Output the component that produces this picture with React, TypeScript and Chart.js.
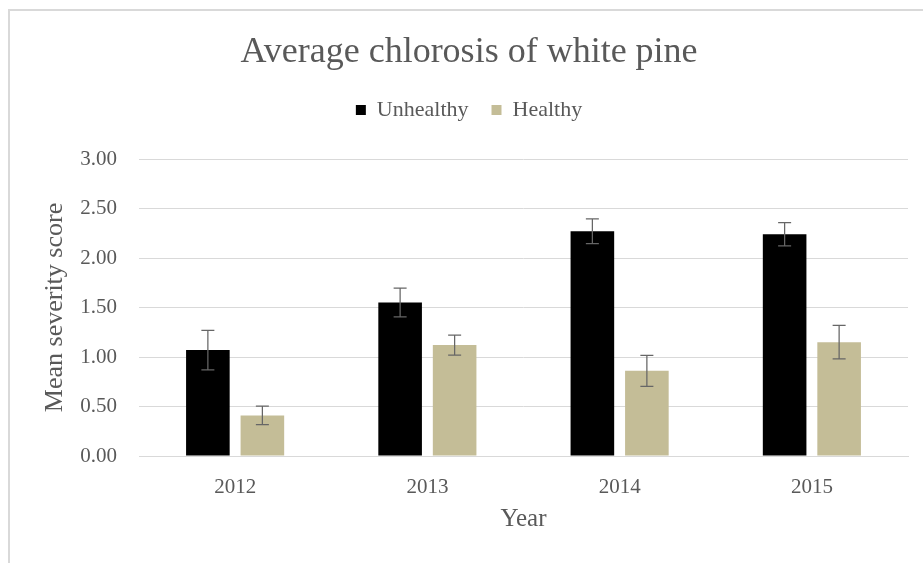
import React, { useEffect, useRef } from "react";
import { Chart, registerables } from "chart.js";

Chart.register(...registerables);

const years = ["2012", "2013", "2014", "2015"];
const unhealthy = [1.07, 1.55, 2.27, 2.24];
const unhealthyErr = [0.2, 0.145, 0.125, 0.117];
const healthy = [0.41, 1.12, 0.86, 1.15];
const healthyErr = [0.094, 0.1, 0.156, 0.17];
const errors = [unhealthyErr, healthyErr];

const FONT = "'Liberation Serif', 'Times New Roman', serif";
const TEXT = "#595959";
const GRID = "#d9d9d9";

const framePlugin = {
  id: "frame",
  beforeDraw(chart: any) {
    const ctx = chart.ctx;
    ctx.save();
    ctx.strokeStyle = GRID;
    ctx.lineWidth = 2;
    ctx.beginPath();
    ctx.moveTo(9, chart.height);
    ctx.lineTo(9, 10);
    ctx.lineTo(chart.width, 10);
    ctx.stroke();
    ctx.restore();
  },
};

const errorBarPlugin = {
  id: "errorBars",
  afterDatasetsDraw(chart: any) {
    const ctx = chart.ctx;
    const yScale = chart.scales.y;
    ctx.save();
    ctx.strokeStyle = "#666666";
    ctx.lineWidth = 1.25;
    chart.data.datasets.forEach((ds: any, di: number) => {
      const meta = chart.getDatasetMeta(di);
      meta.data.forEach((bar: any, i: number) => {
        const v = ds.data[i];
        const e = errors[di][i];
        const x = bar.x;
        const yTop = yScale.getPixelForValue(v + e);
        const yBot = yScale.getPixelForValue(v - e);
        const cap = 6.5;
        ctx.beginPath();
        ctx.moveTo(x, yTop);
        ctx.lineTo(x, yBot);
        ctx.moveTo(x - cap, yTop);
        ctx.lineTo(x + cap, yTop);
        ctx.moveTo(x - cap, yBot);
        ctx.lineTo(x + cap, yBot);
        ctx.stroke();
      });
    });
    ctx.restore();
  },
};

export default function App() {
  const canvasRef = useRef<HTMLCanvasElement | null>(null);

  useEffect(() => {
    if (!canvasRef.current) return;
    const chart = new Chart(canvasRef.current, {
      type: "bar",
      data: {
        labels: years,
        datasets: [
          {
            label: "Unhealthy",
            data: unhealthy,
            backgroundColor: "#000000",
            categoryPercentage: 0.567,
            barPercentage: 0.8,
          },
          {
            label: "Healthy",
            data: healthy,
            backgroundColor: "#C4BD97",
            categoryPercentage: 0.567,
            barPercentage: 0.8,
          },
        ],
      },
      options: {
        responsive: false,
        animation: false,
        layout: { padding: { left: 30, right: 15, top: 0, bottom: 29 } },
        plugins: {
          title: {
            display: true,
            text: "Average chlorosis of white pine",
            color: TEXT,
            font: { family: FONT, size: 36, weight: "normal", lineHeight: 1.2 },
            padding: { top: 31, bottom: 1.8 },
          },
          legend: {
            display: true,
            position: "top",
            labels: {
              color: TEXT,
              font: { family: FONT, size: 22 },
              boxWidth: 10,
              boxHeight: 10,
              padding: 23,
            },
          },
          subtitle: {
            display: true,
            text: "",
            weight: 500,
            font: { family: FONT, size: 10, lineHeight: 1 },
            padding: { top: 18, bottom: 0 },
          },
          tooltip: { enabled: false },
        },
        scales: {
          x: {
            grid: { display: false, drawTicks: false },
            border: { display: true, color: GRID },
            ticks: {
              color: TEXT,
              font: { family: FONT, size: 21 },
              padding: 19,
            },
            title: {
              display: true,
              text: "Year",
              color: TEXT,
              font: { family: FONT, size: 25, lineHeight: 1.2 },
              padding: { top: 0, bottom: 0 },
            },
            afterFit(scale: any) {
              scale.height = 78;
            },
          },
          y: {
            min: 0,
            max: 3,
            grid: { color: GRID, lineWidth: 1, drawTicks: false },
            border: { display: false },
            ticks: {
              stepSize: 0.5,
              color: TEXT,
              font: { family: FONT, size: 21 },
              padding: 22,
              callback: (v: any) => Number(v).toFixed(2),
            },
            title: {
              display: true,
              text: "Mean severity score",
              color: TEXT,
              font: { family: FONT, size: 26, lineHeight: 1.2 },
              padding: { top: 10, bottom: 0 },
            },
            afterFit(scale: any) {
              scale.width = 109;
            },
          },
        },
      },
      plugins: [framePlugin, errorBarPlugin],
    } as any);
    return () => chart.destroy();
  }, []);

  return (
    <div style={{ position: "fixed", left: 0, top: 0, width: 923, height: 563, background: "#fff" }}>
      <canvas ref={canvasRef} width={923} height={563} style={{ display: "block" }} />
    </div>
  );
}
